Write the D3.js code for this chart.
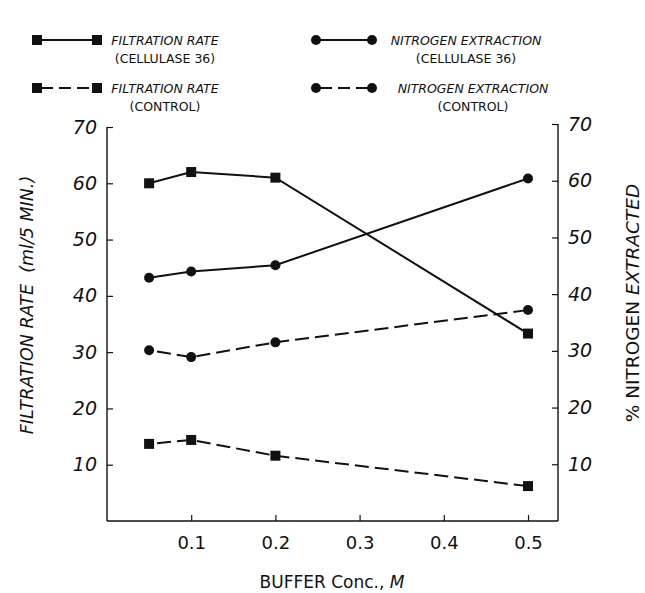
<!DOCTYPE html>
<html><head><meta charset="utf-8">
<script src="https://cdn.jsdelivr.net/npm/d3@7"></script>
<style>
html,body{margin:0;padding:0;background:#fff;}
svg text{font-family:"DejaVu Sans",sans-serif;fill:#111;}
</style></head>
<body>
<svg id="c" width="645" height="593"></svg>
<script>
const concentrations = [0.05, 0.1, 0.2, 0.5];
const filtrationCellulase = [60, 62, 61, 33.3];
const filtrationControl = [13.7, 14.4, 11.6, 6.2];
const nitrogenCellulase = [42.9, 44.0, 45.1, 60.4];
const nitrogenControl = [30.1, 28.9, 31.5, 37.2];
const xTicks = [0.1, 0.2, 0.3, 0.4, 0.5];
const yTicks = [10, 20, 30, 40, 50, 60, 70];

const svg = d3.select("#c");
const mLeft = 107, mRight = 558, mBottom = 521, mTop = 127;
const x = d3.scaleLinear().domain([0, 0.5]).range([mLeft, 528]);
const yL = d3.scaleLinear().domain([0, 70]).range([mBottom, mTop]);
const yR = d3.scaleLinear().domain([0, 70]).range([mBottom, mTop-3]);

const ink = "#111";
// axes
const gx = svg.append("g").attr("transform", `translate(0,${mBottom})`)
  .call(d3.axisBottom(x).tickValues(xTicks).tickSize(-6).tickPadding(15).tickFormat(d3.format(".1f")));
gx.select(".domain").remove();
gx.selectAll("text").attr("font-size", 18);
gx.selectAll("line").attr("stroke", ink).attr("stroke-width", 1.2);
svg.append("line").attr("x1", mLeft).attr("x2", mRight).attr("y1", mBottom).attr("y2", mBottom)
  .attr("stroke", ink).attr("stroke-width", 1.4);

const gl = svg.append("g").attr("transform", `translate(${mLeft},0)`)
  .call(d3.axisLeft(yL).tickValues(yTicks).tickSize(-6).tickPadding(10));
gl.select(".domain").remove();
gl.selectAll("text").attr("font-size", 19).attr("font-style", "italic");
gl.selectAll("line").attr("stroke", ink).attr("stroke-width", 1.2);
svg.append("line").attr("x1", mLeft).attr("x2", mLeft).attr("y1", yL(70)).attr("y2", mBottom)
  .attr("stroke", ink).attr("stroke-width", 1.4);

const gr = svg.append("g").attr("transform", `translate(${mRight},0)`)
  .call(d3.axisRight(yR).tickValues(yTicks).tickSize(-6).tickPadding(10));
gr.select(".domain").remove();
gr.selectAll("text").attr("font-size", 19).attr("font-style", "italic");
gr.selectAll("line").attr("stroke", ink).attr("stroke-width", 1.2);
svg.append("line").attr("x1", mRight).attr("x2", mRight).attr("y1", yR(70)).attr("y2", mBottom)
  .attr("stroke", ink).attr("stroke-width", 1.4);

// axis titles
svg.append("text").attr("transform", `translate(33,305) rotate(-90)`).attr("text-anchor", "middle")
  .attr("font-size", 17.5).attr("font-style", "italic").attr("xml:space", "preserve")
  .text("FILTRATION RATE  (ml/5 MIN.)");
const rt = svg.append("text").attr("transform", `translate(639,303) rotate(-90)`).attr("text-anchor", "middle")
  .attr("font-size", 18.5);
rt.append("tspan").text("% NITROGEN ");
rt.append("tspan").attr("font-style", "italic").text("EXTRACTED");
const bt = svg.append("text").attr("x", 332).attr("y", 588).attr("text-anchor", "middle")
  .attr("font-size", 17);
bt.append("tspan").text("BUFFER Conc., ");
bt.append("tspan").attr("font-style", "italic").text("M");

// series
const series = [
  {vals: filtrationCellulase, y: yL, dash: null, shape: "square"},
  {vals: filtrationControl, y: yL, dash: "14,6", shape: "square"},
  {vals: nitrogenCellulase, y: yR, dash: null, shape: "circle"},
  {vals: nitrogenControl, y: yR, dash: "14,6", shape: "circle"}
];
function marker(g, shape, cx, cy) {
  if (shape === "square") g.append("rect").attr("x", cx-5).attr("y", cy-5).attr("width", 10).attr("height", 10).attr("fill", ink);
  else g.append("circle").attr("cx", cx).attr("cy", cy).attr("r", 5).attr("fill", ink);
}
series.forEach(s => {
  const pts = concentrations.map((c, i) => [x(c), s.y(s.vals[i])]);
  const path = svg.append("path").attr("d", d3.line()(pts)).attr("fill", "none")
    .attr("stroke", ink).attr("stroke-width", 2);
  if (s.dash) path.attr("stroke-dasharray", s.dash).attr("stroke-dashoffset", -8);
  const g = svg.append("g");
  pts.forEach(p => marker(g, s.shape, p[0], p[1]));
});

// legend
const legend = [
  {shape: "square", dash: null, x1: 37, x2: 97, y: 40, tx: 165, l1: "FILTRATION RATE", l2: "(CELLULASE 36)"},
  {shape: "square", dash: "13,6", x1: 37, x2: 97, y: 88, tx: 165, l1: "FILTRATION RATE", l2: "(CONTROL)"},
  {shape: "circle", dash: null, x1: 316, x2: 372, y: 40, tx: 466, l1: "NITROGEN EXTRACTION", l2: "(CELLULASE 36)"},
  {shape: "circle", dash: "13,6", x1: 316, x2: 372, y: 88, tx: 473, l1: "NITROGEN EXTRACTION", l2: "(CONTROL)"}
];
legend.forEach(d => {
  const ln = svg.append("line").attr("x1", d.x1).attr("x2", d.x2).attr("y1", d.y).attr("y2", d.y)
    .attr("stroke", ink).attr("stroke-width", 2);
  if (d.dash) ln.attr("stroke-dasharray", "12,6").attr("stroke-dashoffset", -4);
  const g = svg.append("g");
  marker(g, d.shape, d.x1, d.y); marker(g, d.shape, d.x2, d.y);
  svg.append("text").attr("x", d.tx).attr("y", d.y+5).attr("text-anchor", "middle")
    .attr("font-size", 12.5).attr("font-style", "italic").text(d.l1);
  svg.append("text").attr("x", d.tx).attr("y", d.y+23).attr("text-anchor", "middle")
    .attr("font-size", 12.5).text(d.l2);
});
</script>
</body></html>
